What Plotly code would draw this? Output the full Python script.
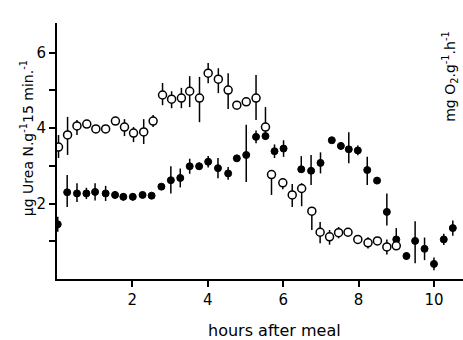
import plotly.graph_objects as go

# Open circles: urea excretion
urea_h = [0.04, 0.28, 0.53, 0.79, 1.03, 1.29, 1.55, 1.79, 2.03, 2.30, 2.55, 2.80, 3.04, 3.30,
          3.52, 3.78, 4.01, 4.28, 4.54, 4.77, 5.02, 5.28, 5.53, 5.69, 5.99, 6.24, 6.49, 6.76,
          6.98, 7.23, 7.47, 7.72, 7.98, 8.25, 8.50, 8.75, 9.00]
urea_v = [3.50, 3.82, 4.06, 4.11, 3.98, 3.98, 4.19, 4.03, 3.87, 3.90, 4.19, 4.88, 4.77, 4.80,
          4.98, 4.80, 5.46, 5.30, 5.01, 4.61, 4.70, 4.80, 4.03, 2.77, 2.55, 2.23, 2.40, 1.80,
          1.24, 1.12, 1.23, 1.24, 1.05, 0.96, 1.01, 0.85, 0.88]
urea_up = [0.32, 0.48, 0.16, 0.08, 0.0, 0.0, 0.10, 0.21, 0.16, 0.34, 0.16, 0.32, 0.21, 0.27,
           0.40, 0.56, 0.27, 0.29, 0.45, 0.0, 0.08, 0.61, 0.53, 0.07, 0.12, 0.29, 0.14, 0.10,
           0.27, 0.18, 0.15, 0.10, 0.0, 0.15, 0.10, 0.20, 0.10]
urea_dn = [0.29, 0.53, 0.24, 0.08, 0.0, 0.0, 0.10, 0.24, 0.24, 0.32, 0.16, 0.27, 0.24, 0.27,
           0.42, 0.64, 0.27, 0.37, 0.50, 0.0, 0.08, 0.58, 0.34, 0.54, 0.17, 0.32, 0.47, 0.50,
           0.29, 0.21, 0.15, 0.10, 0.0, 0.15, 0.10, 0.20, 0.10]

# Filled circles: oxygen consumption
o2_h = [0.02, 0.27, 0.53, 0.78, 1.01, 1.29, 1.54, 1.76, 2.01, 2.27, 2.51, 2.77, 3.02, 3.27,
        3.52, 3.77, 4.01, 4.27, 4.54, 4.77, 5.02, 5.28, 5.53, 5.77, 6.01, 6.48, 6.74, 6.99,
        7.29, 7.53, 7.74, 7.98, 8.23, 8.49, 8.75, 9.00, 9.27, 9.50, 9.75, 10.00, 10.26, 10.50]
o2_v = [1.45, 2.30, 2.27, 2.27, 2.31, 2.27, 2.23, 2.18, 2.18, 2.23, 2.21, 2.45, 2.62, 2.68,
        2.99, 2.99, 3.11, 2.94, 2.80, 3.20, 3.29, 3.77, 3.79, 3.39, 3.46, 2.91, 2.87, 3.08,
        3.68, 3.53, 3.44, 3.41, 2.89, 2.61, 1.78, 1.05, 0.61, 1.01, 0.80, 0.40, 1.05, 1.35]
o2_up = [0.20, 0.46, 0.27, 0.15, 0.23, 0.20, 0.10, 0.10, 0.10, 0.05, 0.05, 0.0, 0.37, 0.25,
         0.20, 0.10, 0.15, 0.27, 0.17, 0.0, 0.80, 0.17, 0.08, 0.18, 0.22, 0.35, 0.42, 0.28,
         0.08, 0.10, 0.45, 0.13, 0.35, 0.05, 0.49, 0.30, 0.10, 0.52, 0.30, 0.17, 0.15, 0.20]
o2_dn = [0.20, 0.39, 0.23, 0.15, 0.23, 0.20, 0.10, 0.10, 0.10, 0.05, 0.05, 0.0, 0.35, 0.25,
         0.20, 0.10, 0.15, 0.27, 0.17, 0.0, 0.72, 0.17, 0.08, 0.18, 0.22, 0.08, 0.38, 0.28,
         0.08, 0.10, 0.37, 0.13, 0.40, 0.05, 0.36, 0.20, 0.10, 0.59, 0.30, 0.17, 0.15, 0.20]

x_ticks = [2, 4, 6, 8, 10]
y_ticks = [2, 4, 6]
y_minor = [1, 3, 5]

FONT = "DejaVu Sans, Liberation Sans, sans-serif"

fig = go.Figure()
fig.add_trace(go.Scatter(
    x=o2_h, y=o2_v, mode="markers",
    marker=dict(symbol="circle", size=7, color="black", line=dict(color="black", width=1)),
    error_y=dict(type="data", array=o2_up, arrayminus=o2_dn, symmetric=False,
                 width=0, thickness=1.5, color="black"),
    showlegend=False))
fig.add_trace(go.Scatter(
    x=urea_h, y=urea_v, mode="markers",
    marker=dict(symbol="circle", size=8, color="white", line=dict(color="black", width=1.5)),
    error_y=dict(type="data", array=urea_up, arrayminus=urea_dn, symmetric=False,
                 width=0, thickness=1.5, color="black"),
    showlegend=False))

fig.update_layout(
    width=463, height=340,
    margin=dict(l=57, r=0, t=23, b=61),
    paper_bgcolor="white", plot_bgcolor="white",
    font=dict(family=FONT, color="black", size=15),
    xaxis=dict(range=[0, 10.77], tickvals=x_ticks, ticks="outside", ticklen=6, tickwidth=2,
               tickcolor="black", showgrid=False, zeroline=False, showline=True, linewidth=2,
               linecolor="black", tickfont=dict(size=15)),
    yaxis=dict(range=[0, 6.79], tickvals=y_ticks, ticks="outside",
               ticklen=6, tickwidth=2, tickcolor="black", showgrid=False, zeroline=False,
               showline=True, linewidth=2, linecolor="black", tickfont=dict(size=15),
               minor=dict(tickvals=y_minor, ticks="outside", ticklen=6, tickwidth=2,
                          tickcolor="black", showgrid=False)),
    annotations=[
        dict(text="hours after meal", xref="paper", yref="paper",
             x=(274 - 57) / 406, y=-0.20, showarrow=False,
             xanchor="center", yanchor="middle", font=dict(size=16)),
        dict(text="µg Urea N.g<sup>-1</sup>15 min.<sup>-1</sup>", textangle=-90,
             xref="paper", yref="paper", x=-0.074, y=0.55, showarrow=False,
             xanchor="center", yanchor="middle", font=dict(size=14)),
        dict(text="mg O<sub>2</sub>.g<sup>-1</sup>.h<sup>-1</sup>", textangle=-90,
             xref="paper", yref="paper", x=0.968, y=0.79, showarrow=False,
             xanchor="center", yanchor="middle", font=dict(size=14)),
    ],
)

fig.write_html("out.html")
